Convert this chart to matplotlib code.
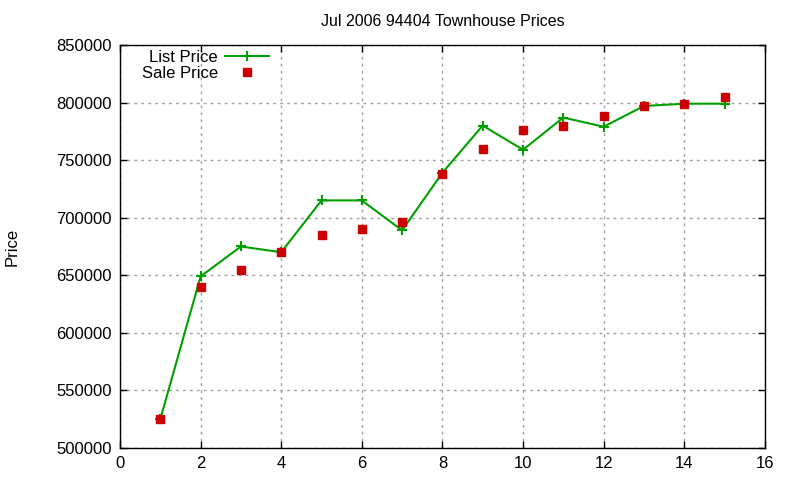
import matplotlib
matplotlib.use("Agg")
import matplotlib.pyplot as plt

plt.rcParams['font.family'] = ['Liberation Sans', 'DejaVu Sans']

x_vals = [1, 2, 3, 4, 5, 6, 7, 8, 9, 10, 11, 12, 13, 14, 15]
list_price = [525000, 649000, 675000, 670000, 715000, 715000, 689000, 739000,
              780000, 759000, 787000, 779000, 797000, 799000, 799000]
sale_price = [525000, 640000, 655000, 670000, 685000, 690000, 696000, 738000,
              760000, 776000, 780000, 788000, 797000, 799000, 805000]
x_ticks = [0, 2, 4, 6, 8, 10, 12, 14, 16]
y_ticks = [500000, 550000, 600000, 650000, 700000, 750000, 800000, 850000]

fig = plt.figure(figsize=(8, 4.8), dpi=100)
ax = fig.add_axes([0.15, 0.0667, 0.806, 0.8396])

ax.plot(x_vals, list_price, color='#00a000', lw=1.5, marker='+', ms=7, mew=1.5,
        label='List Price', zorder=3)
ax.plot(x_vals, sale_price, ls='none', marker='s', ms=6, color='#cc0000',
        label='Sale Price', zorder=4)

ax.set_xlim(0, 16)
ax.set_ylim(500000, 850000)
ax.set_xticks(x_ticks)
ax.set_yticks(y_ticks)
ax.set_xticklabels([str(t) for t in x_ticks])
ax.set_yticklabels([str(t) for t in y_ticks])
ax.tick_params(direction='in', top=True, right=True, labelsize=12, length=5, width=1, pad=6)
ax.grid(True, color='#a0a0a0', ls=(0, (2, 3)), lw=1)
for s in ax.spines.values():
    s.set_linewidth(1)

ax.set_title('Jul 2006 94404 Townhouse Prices', fontsize=11.5, pad=14)
ax.set_ylabel('Price', fontsize=12, labelpad=26)

leg = ax.legend(loc='upper left', frameon=False, markerfirst=False, fontsize=12,
                handlelength=2.6, handletextpad=0.45, borderaxespad=0.2,
                labelspacing=0.03, bbox_to_anchor=(0.018, 1.012))

fig.savefig('out.png', dpi=100)
